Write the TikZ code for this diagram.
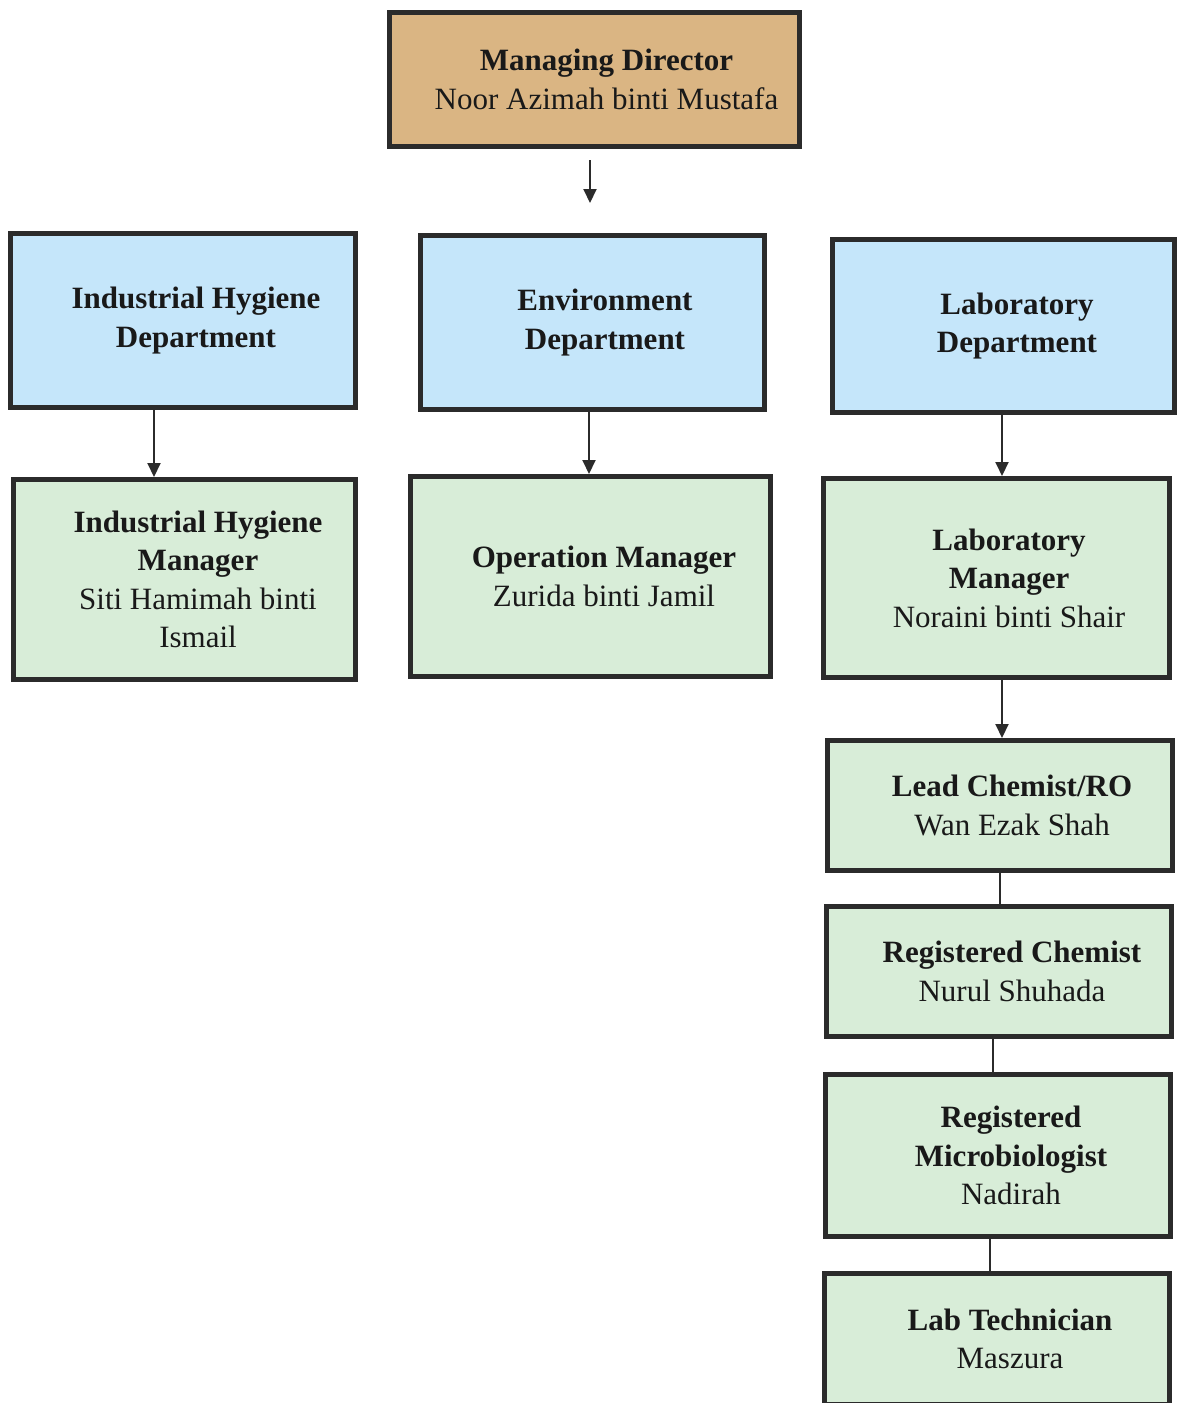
\documentclass[tikz,border=0pt]{standalone}
\usepackage{fontspec}
\setmainfont{Liberation Serif}
\usetikzlibrary{arrows.meta}
\definecolor{mdtan}{HTML}{DAB583}
\definecolor{deptblue}{HTML}{C5E6FA}
\definecolor{staffgreen}{HTML}{D8EDD8}
\definecolor{edge}{HTML}{2B2B2B}
\tikzset{
    box/.style={draw=edge, line width=5pt, inner sep=0pt},
    txt/.style={align=center, font=\fontsize{31}{38.5}\selectfont, text=black!90},
    arr/.style={-{Triangle[length=14pt,width=13pt]}, line width=2pt, draw=edge},
    link/.style={line width=2pt, draw=edge}
}
\begin{document}
\begin{tikzpicture}[x=1pt, y=-1pt]
    \useasboundingbox (0,0) rectangle (1179,1403);
    % top
    \node[box, fill=mdtan, minimum width=410pt, minimum height=134pt] (md) at (594.5,79.5) {};
    \node[txt] (md-t) at ([xshift=12pt]md.center) {\textbf{Managing Director}\\Noor Azimah binti Mustafa};
    \coordinate (md-a) at (590,160);
    \coordinate (md-b) at (590,203);
    \draw[arr] (md-a) -- (md-b);
    % departments
    \node[box, fill=deptblue, minimum width=345pt, minimum height=174pt] (ihd) at (183,320.5) {};
    \node[txt] (ihd-t) at ([xshift=13pt]ihd.center) {\textbf{Industrial Hygiene}\\\textbf{Department}};
    \node[box, fill=deptblue, minimum width=344pt, minimum height=174pt] (envd) at (592.5,322.5) {};
    \node[txt] (envd-t) at ([xshift=12.5pt]envd.center) {\textbf{Environment}\\\textbf{Department}};
    \node[box, fill=deptblue, minimum width=342pt, minimum height=173pt] (labd) at (1003.5,326) {};
    \node[txt] (labd-t) at ([xshift=13.5pt]labd.center) {\textbf{Laboratory}\\\textbf{Department}};
    % managers
    \node[box, fill=staffgreen, minimum width=342pt, minimum height=200pt] (ihm) at (184.5,579.5) {};
    \node[txt] (ihm-t) at ([xshift=13.5pt]ihm.center) {\textbf{Industrial Hygiene}\\\textbf{Manager}\\Siti Hamimah binti\\Ismail};
    \node[box, fill=staffgreen, minimum width=360pt, minimum height=200pt] (opm) at (590.5,576.5) {};
    \node[txt] (opm-t) at ([xshift=13.5pt]opm.center) {\textbf{Operation Manager}\\Zurida binti Jamil};
    \node[box, fill=staffgreen, minimum width=346pt, minimum height=199pt] (labm) at (996.5,578) {};
    \node[txt] (labm-t) at ([xshift=12.5pt]labm.center) {\textbf{Laboratory}\\\textbf{Manager}\\Noraini binti Shair};
    % laboratory staff
    \node[box, fill=staffgreen, minimum width=345pt, minimum height=130pt] (lead) at (1000,805.5) {};
    \node[txt] (lead-t) at ([xshift=12pt]lead.center) {\textbf{Lead Chemist/RO}\\Wan Ezak Shah};
    \node[box, fill=staffgreen, minimum width=345pt, minimum height=130pt] (chem) at (999,971.5) {};
    \node[txt] (chem-t) at ([xshift=13pt]chem.center) {\textbf{Registered Chemist}\\Nurul Shuhada};
    \node[box, fill=staffgreen, minimum width=345pt, minimum height=162pt] (micro) at (998,1155.5) {};
    \node[txt] (micro-t) at ([xshift=13pt]micro.center) {\textbf{Registered}\\\textbf{Microbiologist}\\Nadirah};
    \node[box, fill=staffgreen, minimum width=345pt, minimum height=131pt] (tech) at (997,1339) {};
    \node[txt] (tech-t) at ([xshift=13pt]tech.center) {\textbf{Lab Technician}\\Maszura};
    % connectors
    \draw[arr] ([xshift=-29pt]ihd.south) -- ([xshift=-29pt]ihd.south |- ihm.north);
    \draw[arr] ([xshift=-3.5pt]envd.south) -- ([xshift=-3.5pt]envd.south |- opm.north);
    \draw[arr] ([xshift=-1.5pt]labd.south) -- ([xshift=-1.5pt]labd.south |- labm.north);
    \draw[arr] ([xshift=5.5pt]labm.south) -- ([xshift=5.5pt]labm.south |- lead.north);
    \draw[link] (lead.south) -- (lead.south |- chem.north);
    \draw[link] ([xshift=-6pt]chem.south) -- ([xshift=-6pt]chem.south |- micro.north);
    \draw[link] ([xshift=-8pt]micro.south) -- ([xshift=-8pt]micro.south |- tech.north);
\end{tikzpicture}
\end{document}
